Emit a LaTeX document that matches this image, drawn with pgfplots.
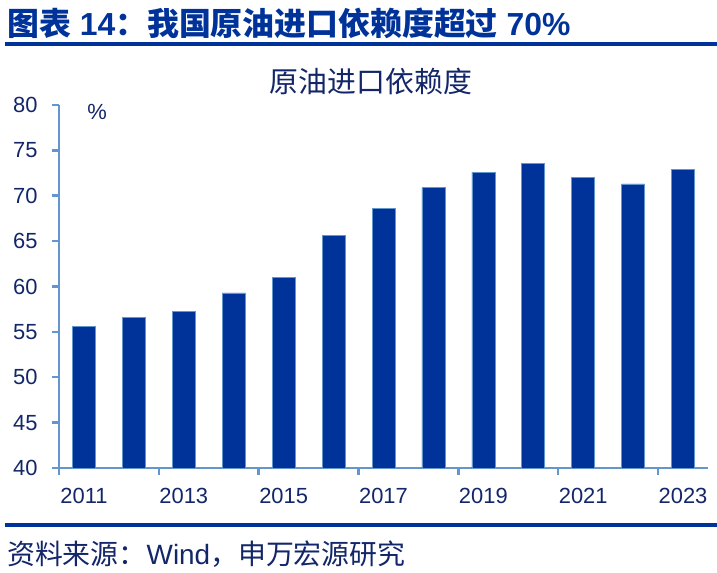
\documentclass[border=0pt]{standalone}
\usepackage{pgfplots}
\pgfplotsset{compat=1.18}
\usepackage{fontspec}
\setmainfont{Liberation Sans}
\newfontfamily\cjk{Noto Sans CJK SC}
\definecolor{barblue}{RGB}{0,51,153}
\definecolor{axisblue}{RGB}{98,150,205}
\definecolor{navy}{RGB}{18,38,105}

\begin{document}
\begin{tikzpicture}
% heading
\node[anchor=west, text=barblue, inner sep=0pt, font=\fontsize{32}{34}\selectfont\bfseries]
  at (7bp,550bp) {{\cjk 图表} 14{\cjk ：我国原油进口依赖度超过} 70\%};
\draw[barblue, line width=3.5bp] (5bp,529bp) -- (717bp,529bp);
% chart title
\node[text=navy, inner sep=0pt, font=\cjk\fontsize{29}{31}\selectfont]
  at (371bp,492bp) {原油进口依赖度};

\begin{axis}[
  at={(59bp,105bp)}, anchor=south west,
  scale only axis, width=649bp, height=363bp,
  xmin=-0.5, xmax=12.5,
  ymin=40, ymax=80,
  ytick={40,45,...,80},
  xtick={-0.5,1.5,...,11.5},
  xticklabels={2011,2013,2015,2017,2019,2021,2023},
  x tick label style={xshift=24.96bp, yshift=-10bp},
  y tick label style={xshift=-11bp},
  axis x line*=bottom, axis y line*=left,
  axis line style={axisblue, line width=2.5bp},
  tick align=outside, major tick length=7bp,
  tick style={axisblue, line width=2.5bp},
  ticklabel style={font=\fontsize{22}{24}\selectfont, text=navy},
  /pgf/number format/assume math mode=true,
  ybar, bar width=23bp,
]
\addplot[fill=barblue, draw=axisblue, line width=0.6bp] coordinates {
(0,55.6) (1,56.6) (2,57.3) (3,59.3) (4,61.0) (5,65.6) (6,68.6)
(7,70.9) (8,72.6) (9,73.6) (10,72.0) (11,71.3) (12,72.9)
};
\end{axis}
\node[text=navy, inner sep=0pt, font=\fontsize{22}{24}\selectfont] at (97bp,461bp) {\%};

% source
\draw[barblue, line width=3.5bp] (5bp,48bp) -- (717bp,48bp);
\node[anchor=west, text=navy, inner sep=0pt, font=\fontsize{28}{30}\selectfont]
  at (7bp,19bp) {{\cjk 资料来源：}Wind{\cjk ，申万宏源研究}};

\pgfresetboundingbox
\path[use as bounding box] (0,0) rectangle (717bp,573bp);
\end{tikzpicture}
\end{document}
